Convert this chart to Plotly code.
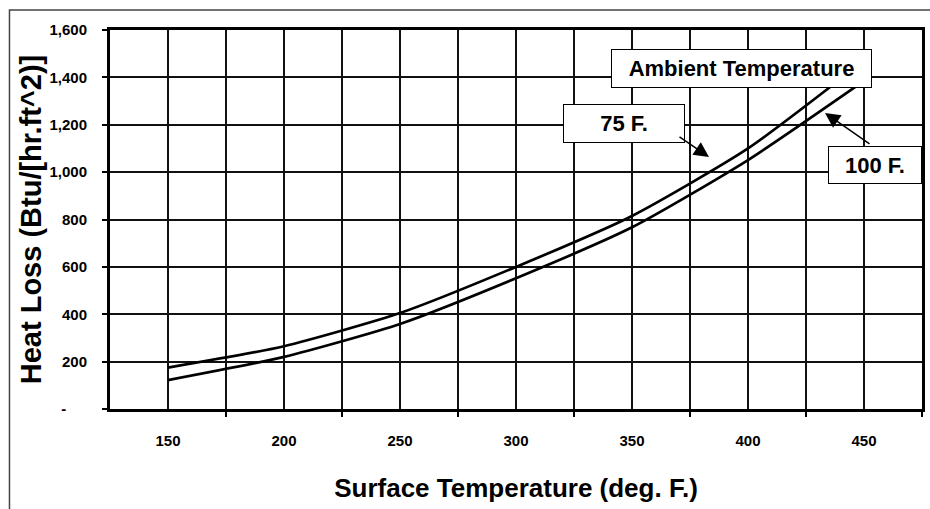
import plotly.graph_objects as go

# ---- data ----
surface_temp = [150, 200, 250, 300, 350, 400, 450]
loss_75F = [175, 265, 405, 600, 815, 1100, 1470]
loss_100F = [122, 220, 359, 552, 767, 1051, 1385]
y_tick_vals = [0, 200, 400, 600, 800, 1000, 1200, 1400, 1600]
y_tick_text = ["-\u00a0\u00a0\u00a0\u00a0\u00a0", "200", "400", "600", "800", "1,000", "1,200", "1,400", "1,600"]
x_tick_vals = [150, 200, 250, 300, 350, 400, 450]
x_tick_text = ["150", "200", "250", "300", "350", "400", "450"]
x_bounds = [175, 225, 275, 325, 375, 425, 475]

TICK_FONT = dict(family="Liberation Sans, Arial, sans-serif", size=15, color="black", weight="bold")
XTITLE_FONT = dict(family="Liberation Sans, Arial, sans-serif", size=26, color="black")
YTITLE_FONT = dict(family="Liberation Sans, Arial, sans-serif", size=29, color="black")
BOX_FONT = dict(family="Liberation Sans, Arial, sans-serif", size=22, color="black")

fig = go.Figure()
fig.add_trace(go.Scatter(x=surface_temp, y=loss_75F, mode="lines", name="75 F.",
                         line=dict(color="black", width=2.7, shape="spline", smoothing=0.6)))
fig.add_trace(go.Scatter(x=surface_temp, y=loss_100F, mode="lines", name="100 F.",
                         line=dict(color="black", width=2.7, shape="spline", smoothing=0.6)))

fig.update_layout(
    width=930, height=509,
    margin=dict(l=110, r=8, t=30, b=100, autoexpand=False),
    paper_bgcolor="white", plot_bgcolor="white",
    showlegend=False,
)

fig.update_xaxes(
    range=[125, 475], automargin=False,
    tickmode="array", tickvals=x_tick_vals, ticktext=x_tick_text,
    ticks="", tickfont=TICK_FONT, ticklabelstandoff=16,
    showgrid=True, gridcolor="#111111", gridwidth=1.6,
    minor=dict(tickmode="array", tickvals=x_bounds, ticks="outside", ticklen=5,
               tickwidth=1.5, tickcolor="black", showgrid=True,
               gridcolor="#111111", gridwidth=1.6),
    showline=True, linecolor="black", linewidth=3, mirror=True,
    zeroline=False,
    title=dict(text="<b>Surface Temperature (deg. F.)</b>", font=XTITLE_FONT, standoff=31),
)
fig.update_yaxes(
    range=[0, 1600], automargin=False,
    tickmode="array", tickvals=y_tick_vals, ticktext=y_tick_text,
    ticks="outside", ticklen=5, tickwidth=1.5, tickcolor="black",
    tickfont=TICK_FONT, ticklabelstandoff=12,
    showgrid=True, gridcolor="#111111", gridwidth=1.6,
    showline=True, linecolor="black", linewidth=3, mirror=True,
    zeroline=False,
    title=dict(text="<b>Heat Loss (Btu/[hr.ft^2)]</b>", font=YTITLE_FONT, standoff=0),
)

# outer chart frame (top and left edges visible in the reference)
fig.add_shape(type="rect", xref="paper", yref="paper",
              x0=-0.1238, x1=1.02, y0=-0.35, y1=1.0528,
              line=dict(color="#444444", width=1.5), layer="below")

# labelled boxes
boxes = [
    ("<b>Ambient Temperature</b>", 0.7777, 0.8984, 259, 37),
    ("<b>75 F.</b>", 0.6330, 0.7533, 120, 37),
    ("<b>100 F.</b>", 0.9421, 0.6438, 92, 36),
]
for text, bx, by, bw, bh in boxes:
    fig.add_annotation(text=text, xref="paper", yref="paper", x=bx, y=by,
                       xanchor="center", yanchor="middle", showarrow=False,
                       width=bw, height=bh, align="center", valign="middle",
                       bgcolor="white", bordercolor="black", borderwidth=1, borderpad=0,
                       font=BOX_FONT)

# arrows from the labels to the curves
fig.add_annotation(x=383.2, y=1064, xref="x", yref="y", text="", showarrow=True,
                   ax=-31, ay=-21, arrowhead=2, arrowsize=2, arrowwidth=1.5, arrowcolor="black")
fig.add_annotation(x=433.2, y=1250, xref="x", yref="y", text="", showarrow=True,
                   ax=46, ay=32, arrowhead=2, arrowsize=2, arrowwidth=1.5, arrowcolor="black")

fig.write_html("out.html", config={"displayModeBar": False},
               post_script="document.body.style.margin='0';document.body.style.padding='0';")
